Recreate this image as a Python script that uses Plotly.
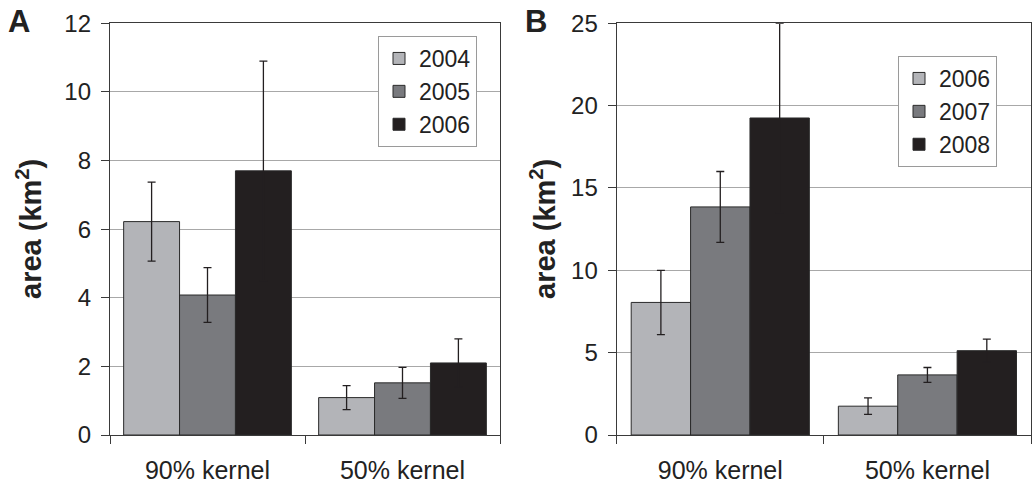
import plotly.graph_objects as go

categories = ["90% kernel", "50% kernel"]

years_a = ["2004", "2005", "2006"]
values_a_2004 = [6.22, 1.09]
errors_a_2004 = [1.15, 0.35]
values_a_2005 = [4.08, 1.52]
errors_a_2005 = [0.80, 0.45]
values_a_2006 = [7.70, 2.10]
errors_a_2006 = [3.20, 0.70]

years_b = ["2006", "2007", "2008"]
values_b_2006 = [8.05, 1.75]
errors_b_2006 = [1.95, 0.50]
values_b_2007 = [13.85, 3.65]
errors_b_2007 = [2.15, 0.45]
values_b_2008 = [19.25, 5.12]
errors_b_2008 = [5.75, 0.70]

colors = ["#b3b4b8", "#797a7e", "#231f20"]
FONT = "Liberation Sans, Arial, sans-serif"
W, H = 1033, 484

fig = go.Figure()

def add_bars(values, errors, names, xa, ya, legend):
    for v, e, n, c in zip(values, errors, names, colors):
        fig.add_trace(go.Bar(
            x=categories, y=v, name=n, xaxis=xa, yaxis=ya, legend=legend,
            marker=dict(color=c, line=dict(color="#2a2a2a", width=1)),
            error_y=dict(type="data", array=e, visible=True, color="#231f20",
                         thickness=1.3, width=4),
        ))

add_bars([values_a_2004, values_a_2005, values_a_2006],
         [errors_a_2004, errors_a_2005, errors_a_2006], years_a, "x", "y", "legend")
add_bars([values_b_2006, values_b_2007, values_b_2008],
         [errors_b_2006, errors_b_2007, errors_b_2008], years_b, "x2", "y2", "legend2")

ydom = [(484 - 435) / H, (484 - 23.3) / H]
xdomA = [110 / W, 500 / W]
xdomB = [616.7 / W, 1031 / W]

line_common = dict(showline=True, linecolor="#3a3a3a", linewidth=1.3, mirror=True,
                   ticks="outside", ticklen=8, tickcolor="#3a3a3a", tickwidth=1.3,
                   automargin=False)
xfont = dict(family=FONT, size=25, color="#222")
yfont = dict(family=FONT, size=24, color="#222")

fig.update_layout(
    width=W, height=H,
    margin=dict(l=0, r=0, t=0, b=0, pad=0, autoexpand=False),
    paper_bgcolor="white", plot_bgcolor="white",
    barmode="group", bargap=0.14, bargroupgap=0,
    font=dict(family=FONT, color="#222"),
    xaxis=dict(domain=xdomA, anchor="y", type="category", tickson="boundaries",
               showgrid=False, ticklabelstandoff=13, tickfont=xfont, **line_common),
    yaxis=dict(domain=ydom, anchor="x", range=[0, 12], dtick=2, showgrid=True,
               gridcolor="#a8a8a8", gridwidth=1, zeroline=False,
               ticklabelstandoff=5, tickfont=yfont, **line_common),
    xaxis2=dict(domain=xdomB, anchor="y2", type="category", tickson="boundaries",
                showgrid=False, ticklabelstandoff=13, tickfont=xfont, **line_common),
    yaxis2=dict(domain=ydom, anchor="x2", range=[0, 25], dtick=5, showgrid=True,
                gridcolor="#a8a8a8", gridwidth=1, zeroline=False,
                ticklabelstandoff=5, tickfont=yfont, **line_common),
    legend=dict(x=378 / W, y=(484 - 36) / H, xanchor="left", yanchor="top",
                bgcolor="white", bordercolor="#9a9a9a", borderwidth=1,
                font=dict(family=FONT, size=23, color="#222")),
    legend2=dict(x=898 / W, y=(484 - 56) / H, xanchor="left", yanchor="top",
                 bgcolor="white", bordercolor="#9a9a9a", borderwidth=1,
                 font=dict(family=FONT, size=23, color="#222")),
    showlegend=True,
)

for xc in (29, 543):
    fig.add_annotation(text="<b>area (km<sup>2</sup>)</b>", textangle=-90,
                       x=xc / W, y=(484 - 229) / H, xref="paper", yref="paper",
                       xanchor="center", yanchor="middle",
                       showarrow=False, font=dict(family=FONT, size=29, color="#222"))
for lab, xc in (("A", 19), ("B", 536)):
    fig.add_annotation(text="<b>%s</b>" % lab, x=xc / W, y=(484 - 21) / H,
                       xref="paper", yref="paper", xanchor="center", yanchor="middle",
                       showarrow=False, font=dict(family=FONT, size=31, color="#222"))

fig.write_html("out.html", config={"displayModeBar": False},
               post_script="document.body.style.margin='0';document.body.style.overflow='hidden';")
